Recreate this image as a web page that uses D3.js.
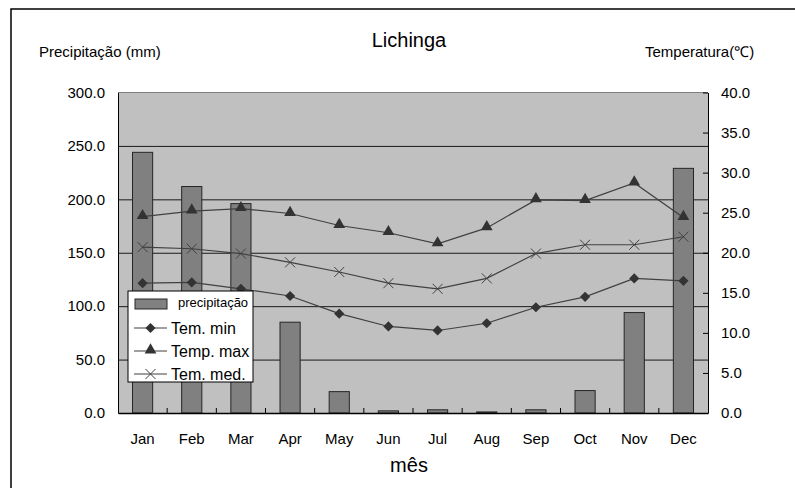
<!DOCTYPE html>
<html>
<head>
<meta charset="utf-8">
<script src="https://cdn.jsdelivr.net/npm/d3@7"></script>
<style>
  body { margin: 0; background: #fff; }
  text { font-family: "Liberation Sans", Arial, sans-serif; fill: #000; }
</style>
</head>
<body>
<div id="climate"></div>
<script>
// data
const months = ["Jan", "Feb", "Mar", "Apr", "May", "Jun", "Jul", "Aug", "Sep", "Oct", "Nov", "Dec"];
const precip = [244, 212, 196, 85, 20, 2, 3, 1, 3, 21, 94, 229];
const tempMin = [16.2, 16.3, 15.5, 14.6, 12.4, 10.8, 10.3, 11.2, 13.2, 14.5, 16.8, 16.5];
const tempMax = [24.5, 25.2, 25.5, 24.9, 23.4, 22.5, 21.1, 23.1, 26.6, 26.5, 28.7, 24.4];
const tempMed = [20.7, 20.5, 19.9, 18.8, 17.6, 16.2, 15.5, 16.8, 19.9, 21.0, 21.0, 22.0];
const precipTicks = [0, 50, 100, 150, 200, 250, 300];
const tempTicks = [0, 5, 10, 15, 20, 25, 30, 35, 40];

// set the dimensions and margins of the graph
const margin = {top: 92.5, right: 87, bottom: 75, left: 118},
    width = 795 - margin.left - margin.right,
    height = 413 - margin.top;

const svgRoot = d3.select("#climate")
  .append("svg")
    .attr("width", 795)
    .attr("height", 488);

// outer frame (right and bottom edges fall outside the picture)
svgRoot.append("path")
  .attr("d", "M11,488V9H795")
  .attr("fill", "none")
  .attr("stroke", "#000")
  .attr("stroke-width", 1.5);

const svg = svgRoot.append("g")
    .attr("transform", `translate(${margin.left},${margin.top})`);

const x = d3.scaleBand()
  .domain(months)
  .range([0, width]);

const yP = d3.scaleLinear()
  .domain([0, 300])
  .range([height, 0]);

const yT = d3.scaleLinear()
  .domain([0, 40])
  .range([height, 0]);

// plot background
svg.append("rect")
  .attr("width", width)
  .attr("height", height)
  .attr("fill", "#c0c0c0");

svg.append("line")
  .attr("x1", 0).attr("x2", width)
  .attr("y1", 0).attr("y2", 0)
  .attr("stroke", "#808080");

// gridlines
svg.append("g")
  .attr("class", "grid")
  .call(d3.axisLeft(yP)
    .tickValues([50, 100, 150, 200, 250])
    .tickSize(-width)
    .tickFormat(""))
  .call(g => g.select(".domain").remove())
  .call(g => g.selectAll("line").attr("stroke", "#1a1a1a"));

// bars
const bw = x.bandwidth() * 0.41;
svg.append("g")
  .selectAll("rect")
  .data(precip)
  .join("rect")
    .attr("x", (d, i) => x(months[i]) + (x.bandwidth() - bw) / 2)
    .attr("y", d => yP(d))
    .attr("width", bw)
    .attr("height", d => height - yP(d))
    .attr("fill", "#808080")
    .attr("stroke", "#262626")
    .attr("stroke-width", 1);

// left axis
svg.append("g")
  .call(d3.axisLeft(yP)
    .tickValues(precipTicks)
    .tickSize(0)
    .tickPadding(13)
    .tickFormat(d3.format(".1f")))
  .call(g => g.select(".domain").attr("stroke", "#000"))
  .call(g => g.selectAll("text").style("font-size", "15px"));

// right axis, ticks pointing inside
svg.append("g")
  .attr("transform", `translate(${width},0)`)
  .call(d3.axisRight(yT)
    .tickValues(tempTicks)
    .tickSize(-5)
    .tickSizeOuter(0)
    .tickPadding(13)
    .tickFormat(d3.format(".1f")))
  .call(g => g.select(".domain").attr("stroke", "#000"))
  .call(g => g.selectAll("line").attr("stroke", "#000"))
  .call(g => g.selectAll("text").style("font-size", "15px"));

// bottom axis with month labels
svg.append("g")
  .attr("transform", `translate(0,${height})`)
  .call(d3.axisBottom(x)
    .tickSize(0)
    .tickPadding(20))
  .call(g => g.select(".domain").attr("stroke", "#000").attr("stroke-width", 1.5))
  .call(g => g.selectAll("text").style("font-size", "15px"));

// category separator ticks
svg.append("g")
  .selectAll("line")
  .data(months.slice(1))
  .join("line")
    .attr("x1", d => x(d)).attr("x2", d => x(d))
    .attr("y1", height).attr("y2", height - 5)
    .attr("stroke", "#000");

// temperature lines
const cx = i => x(months[i]) + x.bandwidth() / 2;
const line = d3.line()
  .x((d, i) => cx(i))
  .y(d => yT(d));

[tempMax, tempMed, tempMin].forEach(s => {
  svg.append("path")
    .datum(s)
    .attr("fill", "none")
    .attr("stroke", "#404040")
    .attr("stroke-width", 1.2)
    .attr("d", line);
});

const diamond = d3.symbol().type(d3.symbolSquare).size(52)();
const triangle = d3.symbol().type(d3.symbolTriangle).size(60)();

function markers(series, kind) {
  const g = svg.append("g");
  series.forEach((d, i) => {
    const px = cx(i), py = yT(d);
    if (kind === "diamond") {
      g.append("path").attr("d", diamond)
        .attr("transform", `translate(${px},${py}) rotate(45)`)
        .attr("fill", "#333");
    } else if (kind === "triangle") {
      g.append("path").attr("d", triangle)
        .attr("transform", `translate(${px},${py - 1})`)
        .attr("fill", "#333");
    } else {
      g.append("path")
        .attr("d", `M${px - 5},${py - 5}L${px + 5},${py + 5}M${px - 5},${py + 5}L${px + 5},${py - 5}`)
        .attr("stroke", "#404040")
        .attr("stroke-width", 1);
    }
  });
}
markers(tempMin, "diamond");
markers(tempMax, "triangle");
markers(tempMed, "cross");

// legend
const lg = svgRoot.append("g").attr("transform", "translate(128,291)");
lg.append("rect")
  .attr("width", 125).attr("height", 91)
  .attr("fill", "#fff")
  .attr("stroke", "#000");
lg.append("rect")
  .attr("x", 7).attr("y", 8).attr("width", 32).attr("height", 10)
  .attr("fill", "#808080").attr("stroke", "#262626");
lg.append("text")
  .attr("x", 50).attr("y", 16)
  .style("font-size", "13px")
  .text("precipitação");

const legendItems = [["Tem. min", "diamond"], ["Temp. max", "triangle"], ["Tem. med.", "cross"]];
legendItems.forEach((it, i) => {
  const ly = 37 + i * 23;
  lg.append("line")
    .attr("x1", 6).attr("x2", 39)
    .attr("y1", ly).attr("y2", ly)
    .attr("stroke", "#404040").attr("stroke-width", 1.2);
  if (it[1] === "diamond") {
    lg.append("path").attr("d", diamond)
      .attr("transform", `translate(22.5,${ly}) rotate(45)`).attr("fill", "#333");
  } else if (it[1] === "triangle") {
    lg.append("path").attr("d", triangle)
      .attr("transform", `translate(22.5,${ly - 1})`).attr("fill", "#333");
  } else {
    lg.append("path")
      .attr("d", `M17.5,${ly - 5}L27.5,${ly + 5}M17.5,${ly + 5}L27.5,${ly - 5}`)
      .attr("stroke", "#404040");
  }
  lg.append("text")
    .attr("x", 43).attr("y", ly + 6)
    .style("font-size", "16px")
    .text(it[0]);
});

// titles
svgRoot.append("text")
  .attr("x", 409).attr("y", 47)
  .attr("text-anchor", "middle")
  .style("font-size", "20px")
  .text("Lichinga");

svgRoot.append("text")
  .attr("x", 39).attr("y", 57)
  .style("font-size", "15px")
  .text("Precipitação (mm)");

svgRoot.append("text")
  .attr("x", 645).attr("y", 57)
  .style("font-size", "15px")
  .text("Temperatura(℃)");

svgRoot.append("text")
  .attr("x", 409).attr("y", 472)
  .attr("text-anchor", "middle")
  .style("font-size", "20px")
  .text("mês");
</script>
</body>
</html>
